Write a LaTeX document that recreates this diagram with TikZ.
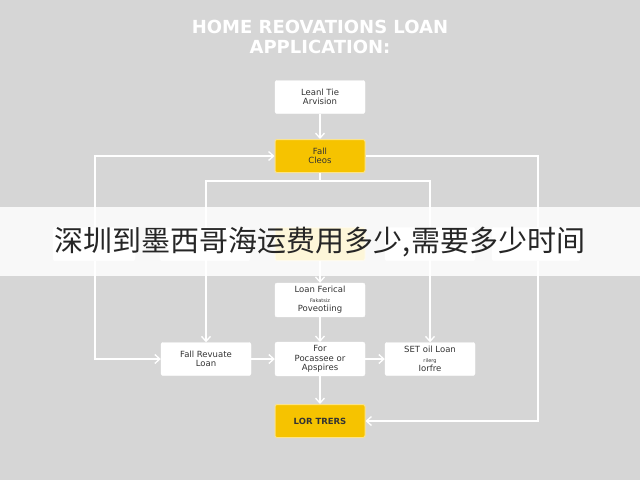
\documentclass[tikz,border=0pt]{standalone}
\usepackage{fontspec}
\setmainfont{DejaVu Sans}
\newfontfamily\cjk{Noto Sans CJK SC}
\usetikzlibrary{arrows.meta}
\definecolor{bggray}{HTML}{D6D6D6}
\definecolor{loanyellow}{HTML}{F6C300}
\definecolor{bordery}{HTML}{FBE38A}
\tikzset{
  box/.style={draw=white, fill=white, rounded corners=2pt, minimum width=90pt,
    minimum height=33pt, align=center, font=\fontsize{8.5}{9.5}\selectfont, text=black!80},
  ybox/.style={box, fill=loanyellow, draw=bordery, line width=1pt},
  link/.style={->, draw=white, line width=1.3pt}
}
\begin{document}
\begin{tikzpicture}[x=1pt,y=-1pt,>={Straight Barb[length=5pt,width=9pt]}]
  \fill[bggray] (0,0) rectangle (640,480);
  \useasboundingbox (0,0) rectangle (640,480);

  % Title
  \node[text=white, font=\bfseries\fontsize{18}{20}\selectfont, align=center] (title) at (320,37)
    {HOME REOVATIONS LOAN\\APPLICATION:};

  % Nodes
  \node[box] (vision) at (320,97) {Leanl Tie\\Arvision};
  \node[ybox] (fall) at (320,156) {Fall\\Cleos};
  \node[box, minimum width=82pt] (hA) at (94,244) {};
  \node[box] (hB) at (205,244) {};
  \node[ybox] (hC) at (320,244) {};
  \node[box] (hD) at (430,244) {};
  \node[box, minimum width=88pt] (hE) at (536,244) {};
  \node[box] (ferical) at (320,300) {Loan Ferical\\{\tiny Fakatsiz}\\Poveotiing};
  \node[box] (revuate) at (206,359) {Fall Revuate\\Loan};
  \node[box] (pocas) at (320,359) {For\\Pocassee or\\Apspires};
  \node[box] (setoil) at (430,359) {SET oil Loan\\{\tiny rilerg}\\Iorfre};
  \node[ybox] (trers) at (320,421) {\bfseries LOR TRERS};

  % Connectors
  \coordinate (lc) at (95,156);
  \coordinate (rc) at (538,156);
  \draw[link] (lc |- hA.north) -- (lc) -- (fall.west);
  \draw[link] (vision) -- (fall);
  \draw[link, -] (fall.east) -- (rc) -- (rc |- hE.north);
  \draw[link] (lc |- hA.south) |- (revuate.west);
  \draw[link] (rc |- hE.south) |- (trers.east);
  \draw[link, -] (fall.south) -- ++(0,8) coordinate (fork);
  \draw[link] (fork) -| (revuate.north);
  \draw[link] (fork) -| (setoil.north);
  \draw[link] (hC) -- (ferical);
  \draw[link] (ferical) -- (pocas);
  \draw[link] (revuate) -- (pocas);
  \draw[link] (pocas) -- (setoil);
  \draw[link] (pocas) -- (trers);

  % Banner
  \fill[white, opacity=0.85] (0,207) rectangle (640,276);
  \node[text=black!85, font=\cjk\fontsize{29}{32}\selectfont] (banner) at (320,242)
    {深圳到墨西哥海运费用多少,需要多少时间};
\end{tikzpicture}
\end{document}
